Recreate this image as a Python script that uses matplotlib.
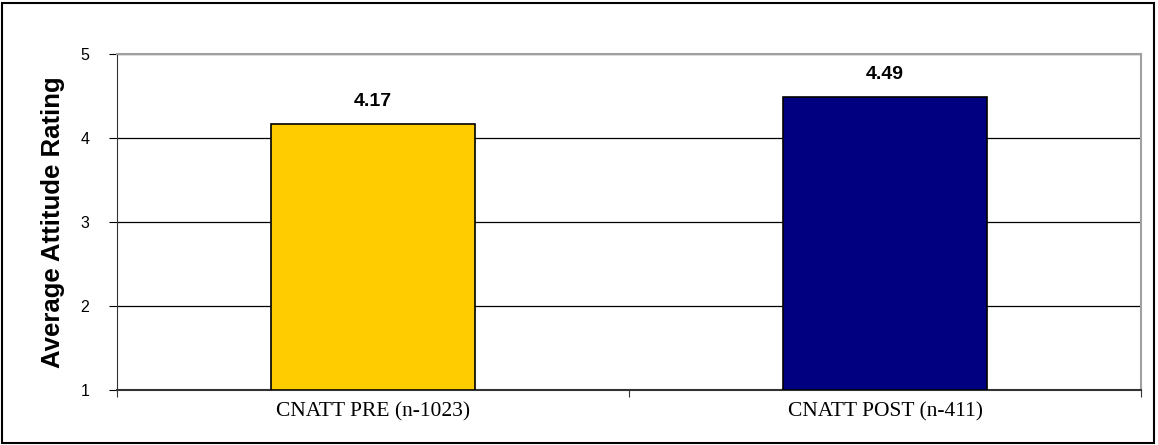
import matplotlib
matplotlib.use("Agg")
import matplotlib.pyplot as plt
from matplotlib.patches import Rectangle

# Dados do gráfico
categories = ["CNATT PRE (n-1023)", "CNATT POST (n-411)"]
ratings = [4.17, 4.49]
bar_colors = ["#FFCC00", "#000080"]
y_ticks = [1, 2, 3, 4, 5]

fig = plt.figure(figsize=(11.58, 4.45), dpi=100)
ax = fig.add_axes([117 / 1158, 55 / 445, 1024 / 1158, 336 / 445])

x = range(len(categories))
ax.bar(x, [r - 1 for r in ratings], bottom=1, width=0.4,
       color=bar_colors, edgecolor="black", linewidth=1.2, zorder=3)

for xi, r in zip(x, ratings):
    ax.text(xi, r + 0.16, f"{r:.2f}", ha="center", va="bottom",
            fontsize=14, fontweight="bold", family="Liberation Sans")

ax.set_xlim(-0.5, 1.5)
ax.set_ylim(1, 5)
ax.set_yticks(y_ticks)
ax.set_yticklabels([str(t) for t in y_ticks], family="Liberation Sans", fontsize=11.5)
ax.yaxis.grid(True, color="black", linewidth=0.9, zorder=0)

# Rótulos das categorias (entre os ticks)
ax.set_xticks([-0.5, 0.5, 1.5])
ax.set_xticklabels([])
ax.set_xticks(list(x), minor=True)
ax.set_xticklabels(categories, minor=True, family="Liberation Serif", fontsize=15.5)
ax.tick_params(axis="x", which="minor", length=0, pad=9)
ax.tick_params(axis="x", which="major", length=5, direction="out", color="#333333")
ax.tick_params(axis="y", length=6, direction="out", pad=14)

ax.set_ylabel("Average Attitude Rating", fontsize=18.5, fontweight="bold",
              family="Liberation Sans", labelpad=11)

ax.spines["top"].set_color("#A0A0A0")
ax.spines["right"].set_color("#A0A0A0")
ax.spines["top"].set_linewidth(1.5)
ax.spines["right"].set_linewidth(1.5)
ax.spines["left"].set_color("#333333")
ax.spines["bottom"].set_color("#333333")
ax.spines["bottom"].set_linewidth(1.5)

# Moldura externa
fig.patches.append(Rectangle((2 / 1158, 2 / 445), 1152 / 1158, 440 / 445,
                             transform=fig.transFigure, fill=False,
                             edgecolor="black", linewidth=1.5))

fig.savefig("out.png", dpi=100)
